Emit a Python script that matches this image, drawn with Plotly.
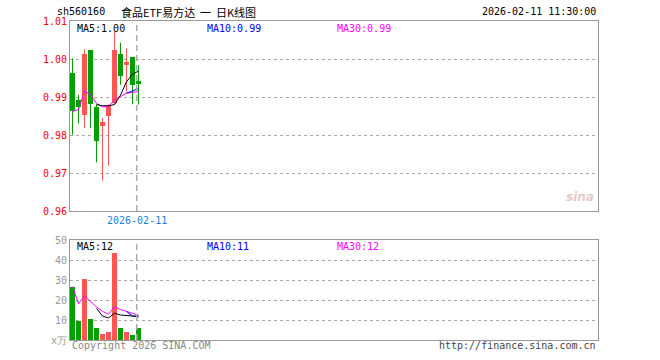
import plotly.graph_objects as go

# ---------------- data ----------------
idx = list(range(12))
opens  = [0.9963, 0.9893, 0.9853, 1.0024, 0.9873, 0.9824, 0.9849, 0.9884, 1.0013, 0.9985, 1.0004, 0.9943]
highs  = [1.0002, 0.9906, 1.0026, 1.0024, 0.9880, 0.9845, 0.9880, 1.0074, 1.0043, 1.0028, 1.0004, 0.9983]
lows   = [0.9801, 0.9831, 0.9818, 0.9818, 0.9728, 0.9680, 0.9719, 0.9882, 0.9932, 0.9914, 0.9881, 0.9880]
closes = [0.9862, 0.9873, 1.0013, 0.9882, 0.9783, 0.9833, 0.9877, 1.0024, 0.9954, 0.9993, 0.9932, 0.9935]
volumes = [26.7, 9.5, 30.5, 10.3, 6.0, 3.0, 4.0, 43.7, 6.0, 4.0, 2.5, 6.0]

ma5  = [None, None, None, None, 0.9880, 0.9877, 0.9877, 0.9880, 0.9905, 0.9940, 0.9960, 0.9968]
ma10 = [None, None, None, None, None, None, None, None, None, 0.9910, 0.9917, 0.9922]
ma30 = [0.9862, 0.9867, 0.9916, 0.9907, 0.9883, 0.9874, 0.9875, 0.9893, 0.9901, 0.9910, 0.9912, 0.9914]

vma5  = [None, None, None, None, 15.8, 12.0, 11.0, 13.4, 12.5, 12.1, 12.0, 12.0]
vma10 = [None, None, None, None, None, None, None, None, None, 14.3, 12.0, 11.5]
vma30 = [26.7, 18.1, 22.2, 19.3, 16.6, 14.3, 12.9, 16.6, 15.2, 14.3, 13.3, 12.4]

price_ticks = [0.96, 0.97, 0.98, 0.99, 1.00, 1.01]
vol_ticks = [0, 10, 20, 30, 40, 50]
vol_ticktext = ["x万", "10", "20", "30", "40", "50"]

code = "sh560160"
title = "食品ETF易方达&nbsp;&nbsp;一&nbsp;&nbsp;日K线图"
stamp = "2026-02-11 11:30:00"
date_label = "2026-02-11"
date_pos = 10.7

RED = "#ff5555"
GREEN = "#00a000"
MONO = "DejaVu Sans Mono"

fig = go.Figure()

up = [c >= o for o, c in zip(opens, closes)]

# wicks
for flag, col in [(True, RED), (False, GREEN)]:
    wx, wy = [], []
    for i in idx:
        if up[i] == flag:
            wx += [i, i, None]
            wy += [lows[i], highs[i], None]
    fig.add_trace(go.Scatter(x=wx, y=wy, mode="lines", line=dict(color=col, width=1),
                             hoverinfo="skip", showlegend=False, xaxis="x", yaxis="y"))

# bodies
for flag, col in [(True, RED), (False, GREEN)]:
    bx, bb, bh = [], [], []
    for i in idx:
        if up[i] == flag:
            bx.append(i)
            bb.append(min(opens[i], closes[i]))
            bh.append(max(abs(closes[i] - opens[i]), 0.0003))
    fig.add_trace(go.Bar(x=bx, y=bh, base=bb, width=0.83, marker=dict(color=col, line=dict(width=0)),
                         showlegend=False, xaxis="x", yaxis="y"))

# price MAs
for arr, col in [(ma30, "#ff00ff"), (ma10, "#0000ff"), (ma5, "#000000")]:
    fig.add_trace(go.Scatter(x=idx, y=arr, mode="lines", line=dict(color=col, width=1),
                             showlegend=False, xaxis="x", yaxis="y"))

# volume bars
vcol = [RED if u else GREEN for u in up]
fig.add_trace(go.Bar(x=idx, y=volumes, width=0.83, marker=dict(color=vcol, line=dict(width=0)),
                     showlegend=False, xaxis="x2", yaxis="y2"))
for arr, col in [(vma30, "#ff00ff"), (vma10, "#0000ff"), (vma5, "#000000")]:
    fig.add_trace(go.Scatter(x=idx, y=arr, mode="lines", line=dict(color=col, width=1),
                             showlegend=False, xaxis="x2", yaxis="y2"))

H = 319.0
def py(y):
    return (340 - y) / H

def px(x):
    return (x - 70) / 528.0

xr = [-0.417, 87.583]
axis_common = dict(showline=True, mirror=True, linecolor="#999999", linewidth=1, zeroline=False)

fig.update_layout(
    width=660, height=360,
    margin=dict(l=70, r=62, t=21, b=20),
    paper_bgcolor="white", plot_bgcolor="white",
    barmode="overlay", bargap=0,
    showlegend=False,
    xaxis=dict(domain=[0, 1], range=xr, showticklabels=False, showgrid=False, ticks="",
               anchor="y", **axis_common),
    yaxis=dict(domain=[py(211), 1], range=[0.96, 1.01], tickvals=price_ticks,
               ticktext=["%.2f" % v for v in price_ticks],
               tickfont=dict(family=MONO, size=10, color="#ff0000"),
               showgrid=True, gridcolor="#aaaaaa", griddash="dot", gridwidth=1,
               ticks="", anchor="x", **axis_common),
    xaxis2=dict(domain=[0, 1], range=xr, showticklabels=False, showgrid=False, ticks="",
                anchor="y2", **axis_common),
    yaxis2=dict(domain=[0, py(240)], range=[0, 50], tickvals=vol_ticks, ticktext=vol_ticktext,
                tickfont=dict(family=MONO, size=10, color="#999999"),
                showgrid=True, gridcolor="#aaaaaa", griddash="dot", gridwidth=1,
                ticks="", anchor="x2", **axis_common),
)

# dashed date lines
fig.add_shape(type="line", xref="x", yref="y domain", x0=date_pos, x1=date_pos, y0=0, y1=1,
              line=dict(color="#aaaaaa", width=1.5, dash="6px,4px"))
fig.add_shape(type="line", xref="x2", yref="y2 domain", x0=date_pos, x1=date_pos, y0=0, y1=1,
              line=dict(color="#aaaaaa", width=1.5, dash="6px,4px"))

def txt(x, y, s, color, size=10, family=MONO, anchor="left", xref="paper"):
    fig.add_annotation(x=x, y=y, xref=xref, yref="paper", text=s, showarrow=False,
                       xanchor=anchor, yanchor="middle",
                       font=dict(family=family, size=size, color=color))

# header
txt(px(55), py(12), code, "#000000")
txt(px(119), py(12), title, "#000000", size=11, family="Noto Sans CJK SC")
txt(px(598), py(12), stamp, "#000000", anchor="right")

# MA labels (price)
txt(px(75), py(28), "MA5:1.00", "#000000")
txt(px(205), py(28), "MA10:0.99", "#0000ff")
txt(px(335), py(28), "MA30:0.99", "#ff00ff")

# MA labels (volume)
txt(px(75), py(246), "MA5:12", "#000000")
txt(px(205), py(246), "MA10:11", "#0000ff")
txt(px(335), py(246), "MA30:12", "#ff00ff")

# date label
fig.add_annotation(x=date_pos, y=py(221), xref="x", yref="paper", text=date_label, showarrow=False,
                   xanchor="center", yanchor="middle", font=dict(family=MONO, size=10, color="#1a80d8"))

# footer
txt(px(70), py(345), "Copyright 2026 SINA.COM", "#888888")
txt(px(598), py(345), "http://finance.sina.com.cn", "#444444", anchor="right")

# watermark
txt(px(596), py(197), "<i><b>sina</b></i>", "#e8c8c8", size=12, family="DejaVu Sans", anchor="right")

fig.write_html("out.html", config={"displayModeBar": False},
               post_script="document.body.style.margin='0';")
